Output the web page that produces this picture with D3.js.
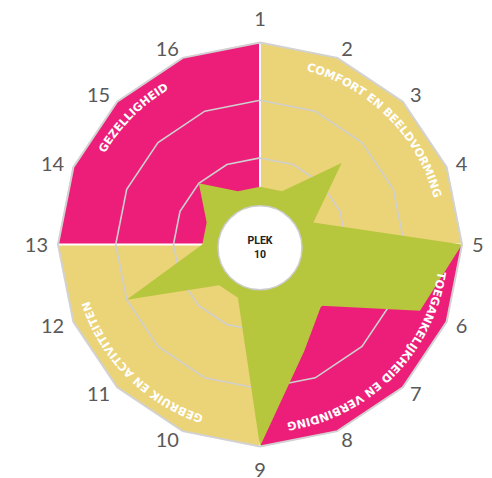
<!DOCTYPE html>
<html>
<head>
<meta charset="utf-8">
<script src="https://cdn.jsdelivr.net/npm/d3@7"></script>
<style>
  html, body { margin: 0; padding: 0; background: #fff; }
  svg { display: block; }
</style>
</head>
<body>
<svg id="chart"></svg>
<script>
// DATA
const categories = ['1', '2', '3', '4', '5', '6', '7', '8', '9', '10', '11', '12', '13', '14', '15', '16'];
const scores = [2, 2, 4, 2, 7, 6, 3, 4, 7, 2, 2, 5, 2, 2, 3, 2];
const sections = ['COMFORT EN BEELDVORMING', 'TOEGANKELIJKHEID EN VERBINDING', 'GEBRUIK EN ACTIVITEITEN', 'GEZELLIGHEID'];
const sectionStart = [0, 4, 8, 12];
const gridLevels = [1, 3, 5, 7];
const maxScore = 7;
const centerLabel = ['PLEK', '10'];

const WIDTH = 492;
const HEIGHT = 478;
const CX = 260;
const CY = 244.5;
const R = 202;
const PINK = '#EC1E79';
const YELLOW = '#EBD377';
const GREEN = '#B6C73D';

const svg = d3.select('#chart').attr('width', WIDTH).attr('height', HEIGHT);
const g = svg.append('g').attr('transform', `translate(${CX},${CY})`);

const n = categories.length;
const angle = d3.scaleLinear().domain([0, n]).range([0, 2 * Math.PI]);
const radius = d3.scaleLinear().domain([0, maxScore]).range([0, R]);

function point(i, v) {
  const a = angle(i);
  return [radius(v) * Math.sin(a), -radius(v) * Math.cos(a)];
}

const ring = d3.lineRadial()
  .angle(i => angle(i))
  .curve(d3.curveLinearClosed);

// quarter sectors
sections.forEach((s, k) => {
  const idx = d3.range(sectionStart[k], sectionStart[k] + 5);
  const pts = [[0, 0]].concat(idx.map(i => point(i, maxScore)));
  g.append('path')
    .attr('d', d3.line()(pts) + 'Z')
    .attr('fill', k % 2 === 0 ? YELLOW : PINK)
    .attr('stroke', k % 2 === 0 ? YELLOW : PINK)
    .attr('stroke-width', 0.5);
});

// white dividers
sectionStart.forEach(i => {
  const p = point(i, maxScore);
  g.append('line')
    .attr('x1', 0).attr('y1', 0)
    .attr('x2', p[0]).attr('y2', p[1])
    .attr('stroke', '#fff')
    .attr('stroke-width', 2);
});

// grid rings
g.selectAll('.grid')
  .data(gridLevels.slice(0, -1))
  .join('path')
  .attr('class', 'grid')
  .attr('d', lv => ring.radius(radius(lv))(d3.range(n)))
  .attr('fill', 'none')
  .attr('stroke', '#CFCFCF')
  .attr('stroke-width', 1.6);

// score shape
g.append('path')
  .attr('d', d3.line()(scores.map((v, i) => point(i, v))) + 'Z')
  .attr('fill', GREEN);

// outer outline
g.append('path')
  .attr('d', ring.radius(radius(maxScore))(d3.range(n)))
  .attr('fill', 'none')
  .attr('stroke', '#D2D2D2')
  .attr('stroke-width', 2);

// center circle
g.append('circle')
  .attr('cx', 0).attr('cy', 3.3)
  .attr('r', 42)
  .attr('fill', '#fff')
  .attr('stroke', '#CCCCCC')
  .attr('stroke-width', 1.5);

g.selectAll('.center-label')
  .data(centerLabel)
  .join('text')
  .attr('class', 'center-label')
  .attr('x', 0)
  .attr('y', (d, i) => -4.5 + i * 14.3)
  .attr('dy', '0.35em')
  .attr('text-anchor', 'middle')
  .attr('font-family', 'Roboto, "Liberation Sans", sans-serif')
  .attr('font-weight', 'bold')
  .attr('font-size', 10.5)
  .attr('fill', '#222')
  .text(d => d);

// section titles on arcs
const TEXT_R = 180;
const defs = svg.append('defs');
sections.forEach((s, k) => {
  const a0 = angle(sectionStart[k]);
  const a1 = angle(sectionStart[k] + 4);
  const p0 = [CX + TEXT_R * Math.sin(a0), CY - TEXT_R * Math.cos(a0)];
  const p1 = [CX + TEXT_R * Math.sin(a1), CY - TEXT_R * Math.cos(a1)];
  defs.append('path')
    .attr('id', `arc-${k}`)
    .attr('d', `M${p0[0]},${p0[1]} A${TEXT_R},${TEXT_R} 0 0 1 ${p1[0]},${p1[1]}`);
  svg.append('text')
    .attr('font-family', '"DejaVu Sans", sans-serif')
    .attr('font-weight', 'bold')
    .attr('font-size', 11.3)
    .attr('fill', '#fff')
    .append('textPath')
    .attr('href', `#arc-${k}`)
    .attr('startOffset', '50%')
    .attr('text-anchor', 'middle')
    .text(s);
});

// category labels
g.selectAll('.cat')
  .data(categories)
  .join('text')
  .attr('class', 'cat')
  .each(function (d, i) {
    const a = angle(i);
    const s = Math.sin(a);
    const c = Math.cos(a);
    const p = point(i, maxScore);
    const t = d3.select(this);
    if (Math.abs(s) < 1e-6) {
      t.attr('x', p[0])
        .attr('y', p[1] - Math.sign(c) * 23.5)
        .attr('text-anchor', 'middle');
    } else {
      t.attr('x', p[0] + Math.sign(s) * 10 * Math.abs(s))
        .attr('y', p[1] - c * 9.5)
        .attr('text-anchor', s > 0 ? 'start' : 'end');
    }
  })
  .attr('dy', '0.36em')
  .attr('font-family', 'Lato, "Open Sans", sans-serif')
  .attr('font-size', 20)
  .attr('fill', '#595959')
  .text(d => d);
</script>
</body>
</html>
